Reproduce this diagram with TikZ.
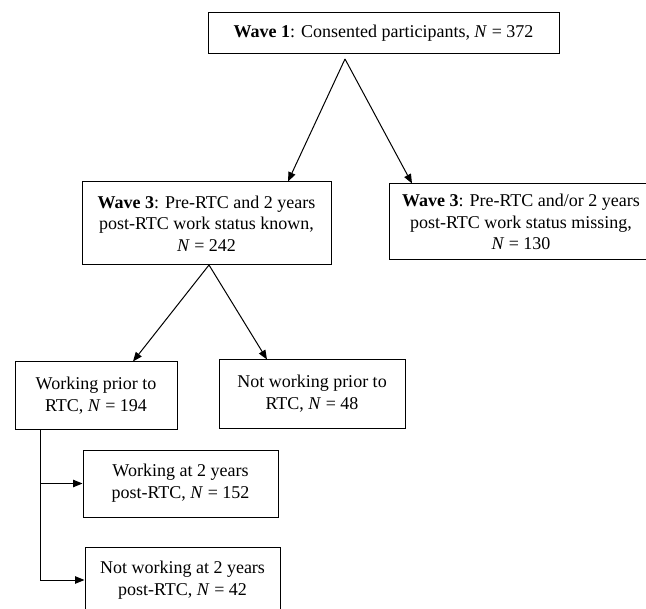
\documentclass[tikz,border=0pt]{standalone}
\usepackage{fontspec}
\setmainfont{Liberation Serif}
\usetikzlibrary{arrows.meta,calc}
\begin{document}
\begin{tikzpicture}[x=0.75pt,y=-0.75pt,
  box/.style={draw,line width=0.75pt,align=center,inner sep=0pt,
    font=\fontsize{13.5}{16.3}\selectfont},
  arr/.style={line width=0.75pt,-{Triangle[length=7pt,width=5.5pt]}},
  ln/.style={line width=0.75pt}]
\useasboundingbox (0,0) rectangle (646,609);
\begin{scope}
\clip (0,0) rectangle (646,609);
\node[box,minimum width=263.25pt,minimum height=30.75pt] (top) at (383.5,33.5)
  {\textbf{Wave 1}: Consented participants, \textit{N} = 372};
\node[box,minimum width=186.75pt,minimum height=62.25pt] (w3a) at (206.5,223.5)
  {\textbf{Wave 3}: Pre-RTC and 2 years\\post-RTC work status known,\\\textit{N} = 242};
\node[box,minimum width=198pt,minimum height=57pt] (w3b) at (521,222)
  {\textbf{Wave 3}: Pre-RTC and/or 2 years\\post-RTC work status missing,\\\textit{N} = 130};
\node[box,minimum width=121.5pt,minimum height=50.25pt] (wp) at (96,395.5)
  {Working prior to\\RTC, \textit{N} = 194};
\node[box,minimum width=139.5pt,minimum height=51pt] (nwp) at (312,394)
  {Not working prior to\\RTC, \textit{N} = 48};
\node[box,minimum width=146.25pt,minimum height=50.25pt] (w2) at (180.5,483.5)
  {Working at 2 years\\post-RTC, \textit{N} = 152};
\node[box,minimum width=146.25pt,minimum height=48.75pt] (nw2) at (182.5,580)
  {Not working at 2 years\\post-RTC, \textit{N} = 42};

\coordinate (a1) at (345,59);
\coordinate (a2) at (209,265);
\draw[arr] (a1) -- ($(w3a.north)+(81.5,0)$);
\draw[arr] (a1) -- ($(w3b.north)+(-109,0)$);
\draw[arr] (a2) -- ($(wp.north)+(37,0)$);
\draw[arr] (a2) -- ($(nwp.north)+(-45,0)$);

\coordinate (s0) at ($(wp.south)+(-56,0)$);
\coordinate (s2) at (s0 |- nw2.west);
\draw[ln] (s0) -- (s2);
\draw[arr] (s0 |- w2.west) -- (w2.west);
\draw[arr] (s2) -- (nw2.west);
\end{scope}
\end{tikzpicture}
\end{document}
